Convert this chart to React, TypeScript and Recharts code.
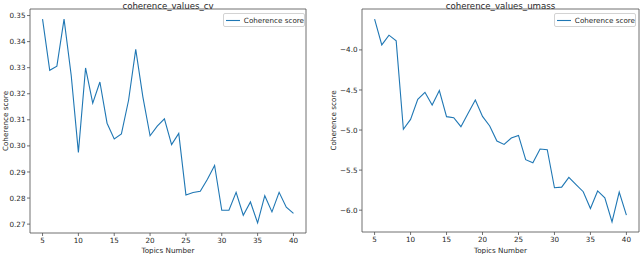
import React from 'react';
import { LineChart, Line, XAxis, YAxis, Legend, Label, ReferenceArea } from 'recharts';

const topics = [5, 6, 7, 8, 9, 10, 11, 12, 13, 14, 15, 16, 17, 18, 19, 20, 21, 22, 23, 24, 25, 26, 27, 28, 29, 30, 31, 32, 33, 34, 35, 36, 37, 38, 39, 40];

const cvValues = [
  0.3486, 0.329, 0.3306, 0.3486, 0.327, 0.2975, 0.3299, 0.3164, 0.3245, 0.3087, 0.3027, 0.3046,
  0.3175, 0.337, 0.3187, 0.3039, 0.3076, 0.3104, 0.3005, 0.3048, 0.2812, 0.2821, 0.2826, 0.2872,
  0.2925, 0.2753, 0.2753, 0.2822, 0.2734, 0.2785, 0.2705, 0.2809, 0.2747, 0.2822, 0.2765, 0.2741,
];

const umassValues = [
  -3.616, -3.9375, -3.816, -3.8875, -4.99, -4.867, -4.617, -4.529, -4.6875, -4.508, -4.833, -4.846,
  -4.958, -4.79, -4.625, -4.83, -4.95, -5.1375, -5.18, -5.1, -5.067, -5.37, -5.408, -5.2375,
  -5.246, -5.72, -5.7125, -5.59, -5.68, -5.77, -5.98, -5.76, -5.846, -6.146, -5.775, -6.0625,
];

const xTicks = [5, 10, 15, 20, 25, 30, 35, 40];
const cvTicks = [0.27, 0.28, 0.29, 0.3, 0.31, 0.32, 0.33, 0.34, 0.35];
const umassTicks = [-6.0, -5.5, -5.0, -4.5, -4.0];

const FONT = "'DejaVu Sans', sans-serif";
const LINE = '#1f77b4';
const SPINE = '#4d4d4d';
const TEXT = '#262626';

// matplotlib-style 5% autoscale margins
const padded = (vals: number[]): [number, number] => {
  const lo = Math.min(...vals);
  const hi = Math.max(...vals);
  const m = (hi - lo) * 0.05;
  return [lo - m, hi + m];
};

const xDomain = padded(topics);

const LegendBox = () => (
  <div
    style={{
      width: 82,
      height: 14,
      boxSizing: 'border-box',
      border: '1px solid #d3d3d3',
      borderRadius: 2,
      background: 'rgba(255,255,255,0.8)',
      display: 'flex',
      alignItems: 'center',
      fontFamily: FONT,
      fontSize: 7.2,
      color: TEXT,
      whiteSpace: 'nowrap',
    }}
  >
    <svg width={15} height={3} style={{ marginLeft: 2 }}>
      <line x1={0} y1={1.5} x2={15} y2={1.5} stroke={LINE} strokeWidth={1.1} />
    </svg>
    <span style={{ marginLeft: 4 }}>Coherence score</span>
  </div>
);

interface PanelProps {
  title: string;
  values: number[];
  ticks: number[];
  fmt: (v: number) => string;
  left: number;
  yAxisWidth: number;
  marginRight: number;
  xAxisHeight: number;
  legendLeft: number;
}

const Panel: React.FC<PanelProps> = ({ title, values, ticks, fmt, left, yAxisWidth, marginRight, xAxisHeight, legendLeft }) => {
  const data = topics.map((t, i) => ({ topic: t, score: values[i] }));
  const yDomain = padded(values);
  const width = 320;
  const height = 254;
  const plotLeft = yAxisWidth;
  const plotRight = width - marginRight;
  return (
    <div style={{ position: 'absolute', left, top: 0, width, height }}>
      <div
        style={{
          position: 'absolute',
          top: 0.5,
          left: plotLeft,
          width: plotRight - plotLeft,
          textAlign: 'center',
          fontFamily: FONT,
          fontSize: 8.6,
          lineHeight: '10px',
          color: TEXT,
        }}
      >
        {title}
      </div>
      <LineChart width={width} height={height} data={data} margin={{ top: 9, right: marginRight, bottom: 0, left: 0 }} style={{ fontFamily: FONT }}>
        <XAxis
          dataKey="topic"
          type="number"
          domain={xDomain}
          allowDataOverflow
          ticks={xTicks}
          height={xAxisHeight}
          axisLine={false}
          tickLine={{ stroke: SPINE, strokeWidth: 0.8 }}
          tickSize={3}
          tickMargin={1.5}
          tick={{ fontSize: 7.2, fill: TEXT }}
        >
          <Label
            content={({ viewBox }: any) => (
              <text x={viewBox.x + viewBox.width / 2} y={viewBox.y + viewBox.height - 1.5} textAnchor="middle" fontSize={7.2} fill={TEXT}>
                Topics Number
              </text>
            )}
          />
        </XAxis>
        <YAxis
          type="number"
          domain={yDomain}
          allowDataOverflow
          ticks={ticks}
          tickFormatter={fmt}
          width={yAxisWidth}
          axisLine={false}
          tickLine={{ stroke: SPINE, strokeWidth: 0.8 }}
          tickSize={3}
          tickMargin={1.5}
          tick={{ fontSize: 7.2, fill: TEXT }}
        >
          <Label
            content={({ viewBox }: any) => {
              const cx = viewBox.x + (yAxisWidth > 35 ? 15.5 : 7.5);
              const cy = viewBox.y + viewBox.height / 2;
              return (
                <text x={cx} y={cy} transform={`rotate(-90, ${cx}, ${cy})`} textAnchor="middle" fontSize={7.2} fill={TEXT}>
                  Coherence score
                </text>
              );
            }}
          />
        </YAxis>
        <ReferenceArea x1={xDomain[0]} x2={xDomain[1]} y1={yDomain[0]} y2={yDomain[1]} fill="none" stroke={SPINE} strokeWidth={0.8} ifOverflow="visible" />
        <Legend
          layout="horizontal"
          verticalAlign="middle"
          align="center"
          wrapperStyle={{ top: 13, left: legendLeft, width: 'auto' }}
          content={() => <LegendBox />}
        />
        <Line type="linear" dataKey="score" name="Coherence score" stroke={LINE} strokeWidth={1.1} dot={false} isAnimationActive={false} />
      </LineChart>
    </div>
  );
};

const fmtCv = (v: number) => v.toFixed(2);
const fmtUmass = (v: number) => v.toFixed(1).replace('-', '\u2212');

export default function App() {
  return (
    <div style={{ position: 'absolute', left: 0, top: 0, width: 640, height: 254, background: '#fff' }}>
      <Panel title="coherence_values_cv" values={cvValues} ticks={cvTicks} fmt={fmtCv} left={0} yAxisWidth={30} marginRight={14} xAxisHeight={21} legendLeft={223} />
      <Panel title="coherence_values_umass" values={umassValues} ticks={umassTicks} fmt={fmtUmass} left={320} yAxisWidth={42} marginRight={1} xAxisHeight={22} legendLeft={234} />
    </div>
  );
}
